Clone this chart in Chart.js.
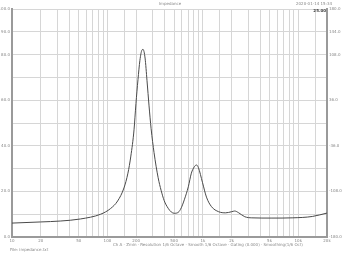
<!DOCTYPE html>
<html>
<head>
<meta charset="utf-8">
<script src="https://cdn.jsdelivr.net/npm/chart.js@4/dist/chart.umd.min.js"></script>
<style>
html,body{margin:0;padding:0;background:#fff;}
#wrap{position:relative;width:342px;height:256px;}
</style>
</head>
<body>
<div id="wrap"><canvas id="c" width="342" height="256"></canvas></div>
<script>
// Frequency (Hz) and impedance (ohm)
const freqs = [10, 20, 32, 52, 85, 108, 128, 149, 164, 176, 190, 199, 209, 219, 230, 236, 248, 260, 273, 287, 308, 340, 365, 393, 433, 466, 501, 552, 594, 639, 704, 758, 815, 856, 899, 990, 1091, 1233, 1462, 1734, 2005, 2158, 2377, 2749, 3258, 5297, 8623, 14030, 20000];
const impedance = [6.1, 6.6, 7.0, 7.9, 10.0, 12.5, 15.8, 21.5, 28.0, 35.5, 47.0, 58.5, 69.0, 77.5, 82.0, 82.3, 78.5, 68.5, 57.5, 47.5, 37.0, 26.0, 20.5, 16.0, 12.6, 11.0, 10.4, 10.8, 12.8, 16.3, 22.0, 28.0, 30.8, 31.6, 30.4, 24.0, 17.5, 13.3, 11.1, 10.6, 11.1, 11.4, 10.6, 8.9, 8.4, 8.3, 8.4, 9.0, 10.5];
const xTickValues = [10, 20, 50, 100, 200, 500, 1000, 2000, 5000, 10000, 20000];
const xTickLabels = ["10", "20", "50", "100", "200", "500", "1k", "2k", "5k", "10k", "20k"];
const yTickValues = [100, 90, 80, 60, 40, 20, 0];
const y2TickValues = [180, 144, 108, 36, -36, -108, -180];
const titleText = "Impedance";
const dateText = "2020-01-14 15:34";
const boxText = "25.00";
const infoText = "Ch A · Zmin · Resolution 1/6 Octave · Smooth 1/6 Octave · Gating (0.000) · Smoothing(1/6 Oct)";
const fileText = "File: impedance.txt";

const textPlugin = {
  id: 'texts',
  afterDraw(chart) {
    const ctx = chart.ctx;
    ctx.save();
    ctx.fillStyle = '#888';
    ctx.font = '4px "DejaVu Sans", sans-serif';
    ctx.textBaseline = 'middle';
    ctx.textAlign = 'center';
    ctx.fillText(titleText, 170, 4);
    ctx.textAlign = 'left';
    ctx.fillText(dateText, 296, 4);
    ctx.fillText(infoText, 113, 245);
    ctx.fillText(fileText, 10, 250);
    ctx.fillStyle = '#444';
    ctx.font = 'bold 4px "DejaVu Sans", sans-serif';
    ctx.textAlign = 'right';
    ctx.fillText(boxText, 326, 11);
    ctx.restore();
  }
};

new Chart(document.getElementById('c'), {
  type: 'line',
  data: {
    datasets: [{
      data: freqs.map((f, i) => ({x: f, y: impedance[i]})),
      borderColor: '#4a4a4a',
      borderWidth: 1,
      pointRadius: 0,
      cubicInterpolationMode: 'monotone',
      fill: false
    }]
  },
  options: {
    responsive: false,
    animation: false,
    devicePixelRatio: 1,
    layout: {padding: {top: 9, left: 0, right: 0, bottom: 0}},
    plugins: {legend: {display: false}, tooltip: {enabled: false}, title: {display: false}},
    scales: {
      x: {
        type: 'logarithmic',
        min: 10, max: 20000,
        grid: {color: '#d6d6d6', lineWidth: 1, drawTicks: false},
        border: {color: '#9a9a9a', width: 2},
        ticks: {
          autoSkip: false, maxRotation: 0, padding: 2,
          font: {size: 4, family: 'DejaVu Sans'}, color: '#888',
          callback: (v) => { const i = xTickValues.indexOf(v); return i >= 0 ? xTickLabels[i] : ''; }
        },
        afterFit: (s) => { s.height = 19; }
      },
      y: {
        type: 'linear', position: 'left',
        min: 0, max: 100,
        grid: {color: '#d6d6d6', lineWidth: 1, drawTicks: false},
        border: {color: '#9a9a9a', width: 2},
        ticks: {
          stepSize: 10, autoSkip: false, padding: 2,
          font: {size: 4, family: 'DejaVu Sans'}, color: '#888',
          callback: (v) => yTickValues.includes(v) ? v.toFixed(1) : ''
        },
        afterFit: (s) => { s.width = 12; }
      },
      y2: {
        type: 'linear', position: 'right',
        min: -180, max: 180,
        grid: {display: false, drawTicks: false},
        border: {color: '#9a9a9a', width: 2},
        ticks: {
          stepSize: 36, autoSkip: false, padding: 2,
          font: {size: 4, family: 'DejaVu Sans'}, color: '#888',
          callback: (v) => y2TickValues.includes(v) ? v.toFixed(1) : ''
        },
        afterFit: (s) => { s.width = 15; }
      }
    }
  },
  plugins: [textPlugin]
});
</script>
</body>
</html>
